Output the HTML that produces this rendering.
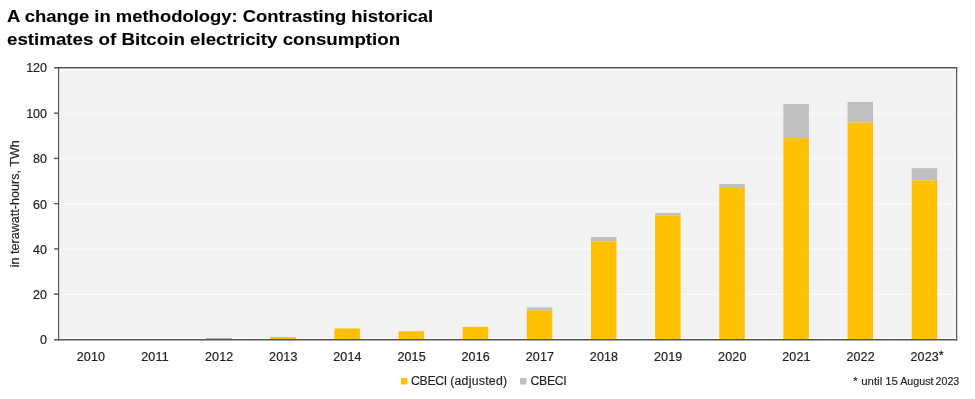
<!DOCTYPE html>
<html><head><meta charset="utf-8">
<style>
html,body{margin:0;padding:0;background:#fff;}
body{width:975px;height:399px;overflow:hidden;position:relative;font-family:"Liberation Sans",sans-serif;}
.title{position:absolute;left:7.1px;top:5.0px;font-weight:bold;font-size:17.2px;line-height:23.2px;color:#000;white-space:nowrap;will-change:transform;-webkit-text-stroke:0.1px #000;}
 .l1{display:inline-block;transform-origin:0 0;transform:scaleX(1.072);letter-spacing:0px;} .l2{display:inline-block;transform-origin:0 0;transform:scaleX(1.089);letter-spacing:0px;}
svg{position:absolute;left:0;top:0;will-change:transform;}
</style></head><body>
<div class="title"><span class="l1">A change in methodology: Contrasting historical</span><br><span class="l2">estimates of Bitcoin electricity consumption</span></div>
<svg width="975" height="399" viewBox="0 0 975 399" font-family="Liberation Sans, sans-serif" font-size="12.5" fill="#262626">
<rect x="60" y="70" width="895.6" height="268" fill="#F2F2F2"/><rect x="60" y="293.75" width="895.6" height="1.2" fill="#FAFAFA"/><rect x="60" y="248.50" width="895.6" height="1.2" fill="#FAFAFA"/><rect x="60" y="203.25" width="895.6" height="1.2" fill="#FAFAFA"/><rect x="60" y="158.00" width="895.6" height="1.2" fill="#FAFAFA"/><rect x="60" y="112.75" width="895.6" height="1.2" fill="#FAFAFA"/><rect x="206.11" y="339.02" width="25.5" height="0.18" fill="#FFC000"/><rect x="270.25" y="336.99" width="25.5" height="2.21" fill="#FFC000"/><rect x="334.39" y="328.50" width="25.5" height="10.70" fill="#FFC000"/><rect x="398.54" y="331.33" width="25.5" height="7.87" fill="#FFC000"/><rect x="462.68" y="326.92" width="25.5" height="12.28" fill="#FFC000"/><rect x="526.82" y="307.35" width="25.5" height="3.05" fill="#BFBFBF"/><rect x="526.82" y="310.40" width="25.5" height="28.80" fill="#FFC000"/><rect x="590.96" y="236.98" width="25.5" height="4.30" fill="#BFBFBF"/><rect x="590.96" y="241.28" width="25.5" height="97.92" fill="#FFC000"/><rect x="655.11" y="213.00" width="25.5" height="2.72" fill="#BFBFBF"/><rect x="655.11" y="215.71" width="25.5" height="123.49" fill="#FFC000"/><rect x="719.25" y="184.04" width="25.5" height="3.85" fill="#BFBFBF"/><rect x="719.25" y="187.89" width="25.5" height="151.31" fill="#FFC000"/><rect x="783.39" y="103.95" width="25.5" height="34.16" fill="#BFBFBF"/><rect x="783.39" y="138.11" width="25.5" height="201.09" fill="#FFC000"/><rect x="847.54" y="101.91" width="25.5" height="20.59" fill="#BFBFBF"/><rect x="847.54" y="122.50" width="25.5" height="216.70" fill="#FFC000"/><rect x="911.68" y="168.20" width="25.5" height="12.10" fill="#BFBFBF"/><rect x="911.68" y="180.31" width="25.5" height="158.89" fill="#FFC000"/><rect x="206" y="338.5" width="26" height="1" fill="#666"/><rect x="54" y="67" width="903.2" height="1.5" fill="#555555"/><rect x="54" y="339" width="903.2" height="1.5" fill="#555555"/><rect x="58" y="67" width="1.2" height="273.5" fill="#555555"/><rect x="956" y="67" width="1.2" height="273.5" fill="#555555"/><rect x="54" y="293.45" width="4.5" height="1.4" fill="#555555"/><rect x="54" y="248.20" width="4.5" height="1.4" fill="#555555"/><rect x="54" y="202.95" width="4.5" height="1.4" fill="#555555"/><rect x="54" y="157.70" width="4.5" height="1.4" fill="#555555"/><rect x="54" y="112.45" width="4.5" height="1.4" fill="#555555"/>
<g fill="#222" stroke="#222" stroke-width="0.2"><text x="47" y="344" text-anchor="end">0</text><text x="47" y="299" text-anchor="end">20</text><text x="47" y="253.5" text-anchor="end">40</text><text x="47" y="208.5" text-anchor="end">60</text><text x="47" y="163" text-anchor="end">80</text><text x="47" y="118" text-anchor="end">100</text><text x="47" y="72" text-anchor="end">120</text></g>
<g fill="#222" stroke="#222" stroke-width="0.2" letter-spacing="0.15"><text x="90.9" y="360.8" text-anchor="middle">2010</text><text x="155.0" y="360.8" text-anchor="middle">2011</text><text x="219.2" y="360.8" text-anchor="middle">2012</text><text x="283.3" y="360.8" text-anchor="middle">2013</text><text x="347.4" y="360.8" text-anchor="middle">2014</text><text x="411.6" y="360.8" text-anchor="middle">2015</text><text x="475.7" y="360.8" text-anchor="middle">2016</text><text x="539.9" y="360.8" text-anchor="middle">2017</text><text x="604.0" y="360.8" text-anchor="middle">2018</text><text x="668.2" y="360.8" text-anchor="middle">2019</text><text x="732.3" y="360.8" text-anchor="middle">2020</text><text x="796.4" y="360.8" text-anchor="middle">2021</text><text x="860.6" y="360.8" text-anchor="middle">2022</text><text x="924.7" y="360.8" text-anchor="middle">2023</text><text x="938.9" y="358.8" font-size="11.5" stroke-width="0.3">*</text></g>
<text transform="translate(18.7,203.7) rotate(-90)" text-anchor="middle" font-size="12.6" fill="#222" stroke="#222" stroke-width="0.15">in terawatt-hours, TWh</text>
<rect x="401" y="378" width="6.5" height="6.5" fill="#FFC000"/>
<text y="385.2" font-size="12.3" fill="#222" stroke="#222" stroke-width="0.15"><tspan x="411" letter-spacing="-0.35">CBECI</tspan><tspan x="450.2" letter-spacing="0.25">(adjusted)</tspan></text>
<rect x="520" y="378" width="6.5" height="6.5" fill="#BFBFBF"/>
<text x="530.5" y="385.2" font-size="12.3" fill="#222" stroke="#222" stroke-width="0.15" letter-spacing="-0.35">CBECI</text>
<text y="384.8" font-size="11.3" fill="#222" stroke="#222" stroke-width="0.15"><tspan x="853.2">*</tspan><tspan x="861.2" textLength="21" lengthAdjust="spacingAndGlyphs">until</tspan><tspan x="885.2" textLength="12.6" lengthAdjust="spacingAndGlyphs">15</tspan><tspan x="900.2" textLength="33.4" lengthAdjust="spacingAndGlyphs">August</tspan><tspan x="935.6" textLength="23.6" lengthAdjust="spacingAndGlyphs">2023</tspan></text>
</svg>
</body></html>
